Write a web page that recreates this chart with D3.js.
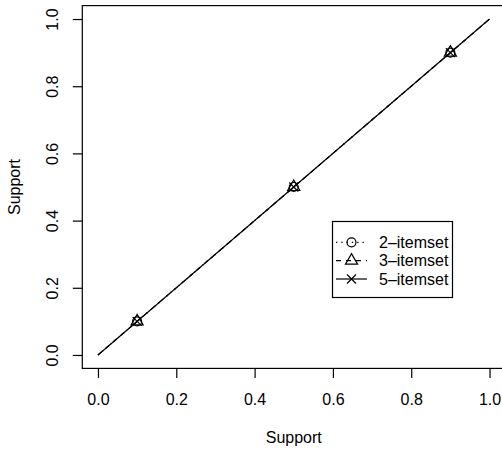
<!DOCTYPE html>
<html>
<head>
  <meta charset="utf-8">
  <script src="https://d3js.org/d3.v7.min.js"></script>
  <style>
    body { margin: 0; background: #fff; }
    svg text { font-family: "Liberation Sans", Arial, sans-serif; font-size: 16px; fill: #000; }
  </style>
</head>
<body>
<script>
  // data
  var supportX = [0.1, 0.5, 0.9];
  var itemset2 = [0.1, 0.5, 0.9];
  var itemset3 = [0.1, 0.5, 0.9];
  var itemset5 = [0.1, 0.5, 0.9];
  var diagonal = [0, 1];
  var tickValues = [0, 0.2, 0.4, 0.6, 0.8, 1.0];
  var seriesNames = ["2\u2013itemset", "3\u2013itemset", "5\u2013itemset"];

  var W = 502, H = 452;
  var svg = d3.select(document.body).append("svg")
    .attr("width", W).attr("height", H);

  // R style: 4% padding on each side of the range
  var x = d3.scaleLinear().domain([-0.04, 1.04]).range([82.3, 505.2]);
  var y = d3.scaleLinear().domain([-0.04, 1.04]).range([368.4, 5.6]);

  var series = [
    { name: seriesNames[0], values: itemset2, dash: "1.3,4", pch: "circle" },
    { name: seriesNames[1], values: itemset3, dash: "5,5", pch: "triangle" },
    { name: seriesNames[2], values: itemset5, dash: null, pch: "cross" }
  ];

  function drawSymbol(g, type, cx, cy) {
    var r = 4.5;
    if (type === "circle") {
      g.append("circle").attr("cx", cx).attr("cy", cy).attr("r", r)
        .attr("fill", "none").attr("stroke", "#000").attr("stroke-width", 1.2);
    } else if (type === "triangle") {
      var pts = [[cx, cy - 1.555 * r], [cx + 1.347 * r, cy + 0.778 * r], [cx - 1.347 * r, cy + 0.778 * r]];
      g.append("polygon").attr("points", pts.map(function (p) { return p.join(","); }).join(" "))
        .attr("fill", "none").attr("stroke", "#000").attr("stroke-width", 1.2);
    } else {
      g.append("path")
        .attr("d", "M" + (cx - r) + "," + (cy - r) + "L" + (cx + r) + "," + (cy + r) +
          "M" + (cx - r) + "," + (cy + r) + "L" + (cx + r) + "," + (cy - r))
        .attr("stroke", "#000").attr("stroke-width", 1.2);
    }
  }

  // lines
  var line = d3.line().x(function (d) { return x(d); }).y(function (d) { return y(d); });
  var plot = svg.append("g");
  series.forEach(function (s) {
    plot.append("path").datum(diagonal)
      .attr("d", line).attr("fill", "none")
      .attr("stroke", "#000").attr("stroke-width", 1.2)
      .attr("stroke-dasharray", s.dash);
  });
  // points
  series.forEach(function (s) {
    s.values.forEach(function (v, i) {
      drawSymbol(plot, s.pch, x(supportX[i]), y(v));
    });
  });

  // box
  svg.append("rect")
    .attr("x", x(-0.04)).attr("y", y(1.04))
    .attr("width", x(1.04) - x(-0.04)).attr("height", y(-0.04) - y(1.04))
    .attr("fill", "none").attr("stroke", "#000").attr("stroke-width", 1.2);

  // x axis
  var xAxis = svg.append("g")
    .attr("transform", "translate(0," + y(-0.04) + ")")
    .call(d3.axisBottom(x).tickValues(tickValues).tickSize(9.5).tickSizeOuter(0)
      .tickFormat(d3.format(".1f")));
  xAxis.select(".domain").remove();
  xAxis.selectAll("line").attr("stroke", "#000").attr("stroke-width", 1.2);
  xAxis.selectAll("text").attr("y", 0).attr("dy", null)
    .attr("transform", "translate(0,36.3)")
    .style("font-size", "16px").style("font-family", "Liberation Sans, Arial, sans-serif")
    .attr("fill", "#000");

  // y axis
  var yAxis = svg.append("g")
    .attr("transform", "translate(" + x(-0.04) + ",0)")
    .call(d3.axisLeft(y).tickValues(tickValues).tickSize(9.5).tickSizeOuter(0)
      .tickFormat(d3.format(".1f")));
  yAxis.select(".domain").remove();
  yAxis.selectAll("line").attr("stroke", "#000").attr("stroke-width", 1.2);
  yAxis.selectAll("text").attr("x", 0).attr("dy", null)
    .attr("text-anchor", "middle")
    .attr("transform", "translate(-24.6,0) rotate(-90)")
    .style("font-size", "16px").style("font-family", "Liberation Sans, Arial, sans-serif")
    .attr("fill", "#000");

  // axis titles
  svg.append("text").attr("x", (x(-0.04) + x(1.04)) / 2).attr("y", 443)
    .attr("text-anchor", "middle").text("Support");
  svg.append("text")
    .attr("transform", "translate(20," + (y(-0.04) + y(1.04)) / 2 + ") rotate(-90)")
    .attr("text-anchor", "middle").text("Support");

  // legend
  var leg = svg.append("g");
  leg.append("rect").attr("x", 332.5).attr("y", 221.5).attr("width", 120).attr("height", 76)
    .attr("fill", "#fff").attr("stroke", "#000").attr("stroke-width", 1.2);
  var rowY = d3.scalePoint().domain(seriesNames).range([242.3, 279]);
  series.forEach(function (s) {
    var cy = rowY(s.name);
    leg.append("line").attr("x1", 336).attr("x2", 367).attr("y1", cy).attr("y2", cy)
      .attr("stroke", "#000").attr("stroke-width", 1.2).attr("stroke-dasharray", s.dash);
    drawSymbol(leg, s.pch, 351.5, cy);
    leg.append("text").attr("x", 379).attr("y", cy + 5.8).text(s.name);
  });
</script>
</body>
</html>
